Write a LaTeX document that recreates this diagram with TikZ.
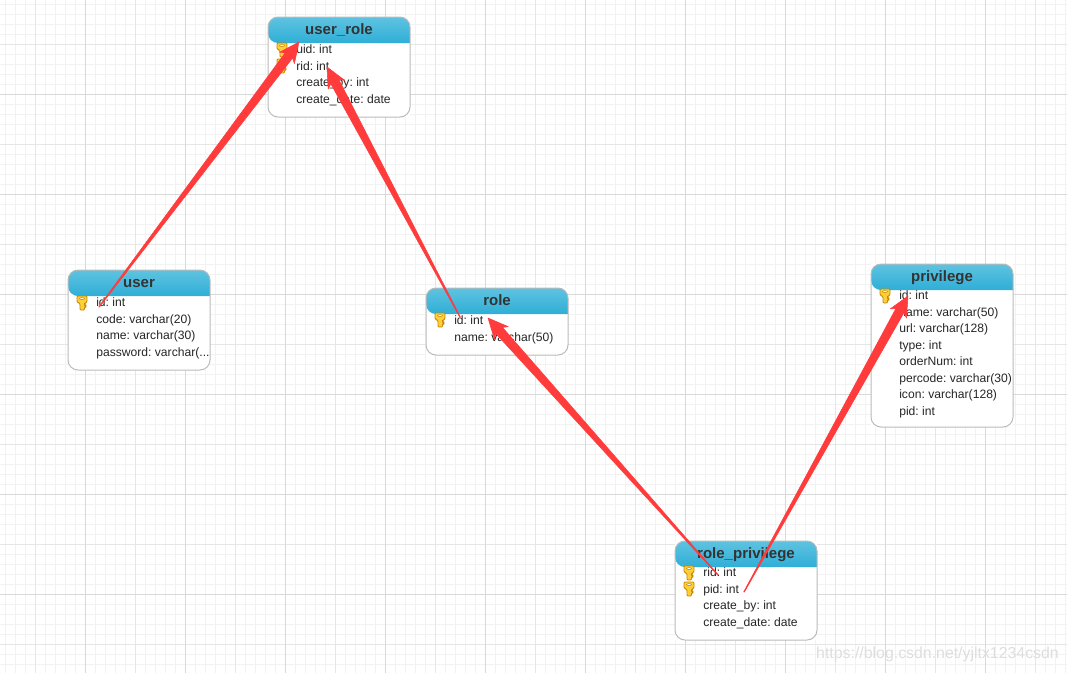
\documentclass[tikz,border=0pt]{standalone}
\usepackage{fontspec}
\setmainfont{Liberation Sans}
\usetikzlibrary{positioning,calc}
\definecolor{gridminor}{HTML}{F2F2F2}
\definecolor{gridmid}{HTML}{E6E6E6}
\definecolor{gridmajor}{HTML}{D9D9D9}
\definecolor{headtop}{HTML}{5FC3E0}
\definecolor{headbottom}{HTML}{2FAED7}
\definecolor{boxline}{HTML}{BBBBBB}
\definecolor{arrowred}{HTML}{FF3B3B}
\definecolor{keyfill}{HTML}{FFCF3A}
\definecolor{keyline}{HTML}{C98A00}
\begin{document}
\begin{tikzpicture}[x=0.75pt, y=-0.75pt,
    tablebox/.style={rectangle, anchor=north west, fill=white, minimum width=106.5pt, inner sep=0pt, outer sep=0pt},
    boxedge/.style={draw=boxline, line width=0.75pt, rounded corners=7.5pt},
    headfill/.style={top color=headtop, bottom color=headbottom, rounded corners=7.5pt},
    tabletitle/.style={font=\fontsize{11.25}{13}\selectfont\bfseries, text=black!80, inner sep=0pt, text height=10.5pt, text depth=3pt},
    rowtext/.style={anchor=west, font=\fontsize{9.1}{11}\selectfont\frenchspacing, text=black!85, inner sep=0pt, text height=9pt, text depth=3pt},
    nextrow/.style={below=0pt of #1.south west, anchor=north west},
    watermark/.style={font=\fontsize{11.9}{14}\selectfont, text=black!13, inner sep=0pt},
    wedge/.style={draw=arrowred, fill=arrowred, line width=0.4pt, line join=round, to path={
        coordinate (n) at ($(\tikztotarget)!12.5pt!(\tikztostart)$)
        coordinate (w) at ($(\tikztotarget)!15pt!(\tikztostart)$)
        -- ($(\tikztostart)!0.25pt!90:(\tikztotarget)$)
        -- ($(n)!3.4pt!90:(\tikztotarget)$) -- ($(w)!7pt!90:(\tikztotarget)$) -- (\tikztotarget)
        -- ($(w)!7pt!-90:(\tikztotarget)$) -- ($(n)!3.4pt!-90:(\tikztotarget)$)
        -- ($(\tikztostart)!0.25pt!-90:(\tikztotarget)$) -- cycle}},
    keyicon/.pic={
        \fill[keyfill, draw=keyline, line width=0.7pt, rounded corners=0.8pt]
            (-5,-7) -- (5,-7) -- (5,-1) -- (2.5,0.5) -- (2.5,2) -- (4,2) -- (4,4) -- (2.5,4) -- (2.5,7) -- (-2,7) -- (-2,0.5) -- (-5,-1) -- cycle;
        \fill[white, draw=keyline, line width=0.4pt] (0,-4.4) ellipse (2.5 and 1);
    }]
    \useasboundingbox (0,0) rectangle (1067,672);
    \fill[white] (0,0) rectangle (1067,672);

    % Grid
    \begin{scope}[shift={(0.5,0.5)}]
    \foreach \gx in {5,15,...,1065} \draw[gridminor, line width=0.75pt] (\gx,-1) -- (\gx,672);
    \foreach \gy in {4,14,...,664} \draw[gridminor, line width=0.75pt] (-1,\gy) -- (1067,\gy);
    \foreach \gx in {35,135,...,1035} \draw[gridmid, line width=0.75pt] (\gx,-1) -- (\gx,672);
    \foreach \gy in {44,144,...,644} \draw[gridmid, line width=0.75pt] (-1,\gy) -- (1067,\gy);
    \foreach \gx in {85,185,...,985} \draw[gridmajor, line width=0.75pt] (\gx,-1) -- (\gx,672);
    \foreach \gy in {94,194,...,594} \draw[gridmajor, line width=0.75pt] (-1,\gy) -- (1067,\gy);
    \end{scope}

    % Tables
    \foreach \tname/\ttitle/\tx/\ty/\th in {userrole/user\_role/268/17/100, user/user/68/270/100, role/role/426/288/67, privilege/privilege/871/264/163, roleprivilege/role\_privilege/675/541/99} {
        \node[tablebox, minimum height=\th*0.75pt] (\tname) at (\tx,\ty) {};
        \shade[headfill] (\tname.west |- 0,\ty+26) [sharp corners] -- (\tname.east |- 0,\ty+26) [rounded corners=7.5pt] -- (\tname.north east) -- (\tname.north west) -- cycle;
        \draw[boxedge] (\tname.north west) rectangle (\tname.south east);
        \node[tabletitle] (\tname title) at ($(\tname.north)+(0,12)$) {\ttitle};
    }

    % Rows
    \node[rowtext] (ur1) at (296,49.6) {uid: int};
    \node[rowtext, nextrow=ur1] (ur2) {rid: int};
    \node[rowtext, nextrow=ur2] (ur3) {create\_by: int};
    \node[rowtext, nextrow=ur3] (ur4) {create\_date: date};

    \node[rowtext] (u1) at (96,302.6) {id: int};
    \node[rowtext, nextrow=u1] (u2) {code: varchar(20)};
    \node[rowtext, nextrow=u2] (u3) {name: varchar(30)};
    \node[rowtext, nextrow=u3] (u4) {password: varchar(...};

    \node[rowtext] (r1) at (454,320.6) {id: int};
    \node[rowtext, nextrow=r1] (r2) {name: varchar(50)};

    \node[rowtext] (p1) at (899,295.6) {id: int};
    \node[rowtext, nextrow=p1] (p2) {name: varchar(50)};
    \node[rowtext, nextrow=p2] (p3) {url: varchar(128)};
    \node[rowtext, nextrow=p3] (p4) {type: int};
    \node[rowtext, nextrow=p4] (p5) {orderNum: int};
    \node[rowtext, nextrow=p5] (p6) {percode: varchar(30)};
    \node[rowtext, nextrow=p6] (p7) {icon: varchar(128)};
    \node[rowtext, nextrow=p7] (p8) {pid: int};

    \node[rowtext] (rp1) at (703,572.6) {rid: int};
    \node[rowtext, nextrow=rp1] (rp2) {pid: int};
    \node[rowtext, nextrow=rp2] (rp3) {create\_by: int};
    \node[rowtext, nextrow=rp3] (rp4) {create\_date: date};

    % Keys
    \foreach \kx/\ky in {282/50, 282/66, 82/303, 440/320, 885/296, 689/573, 689/589}
        \pic at (\kx,\ky) {keyicon};

    \node[watermark] (mark) at (937.5,654) {https://blog.csdn.net/yjltx1234csdn};

    % Arrows
    \coordinate (userfrom) at (99,307);
    \coordinate (uidto) at (299,42);
    \coordinate (rolefrom) at (460,317);
    \coordinate (ridto) at (327,67);
    \coordinate (ridfrom) at (718,575);
    \coordinate (roleto) at (488,318);
    \coordinate (pidfrom) at (744,592);
    \coordinate (privto) at (908,296);
    \path[wedge] (userfrom) to (uidto);
    \path[wedge] (rolefrom) to (ridto);
    \path[wedge] (ridfrom) to (roleto);
    \path[wedge] (pidfrom) to (privto);
\end{tikzpicture}
\end{document}
